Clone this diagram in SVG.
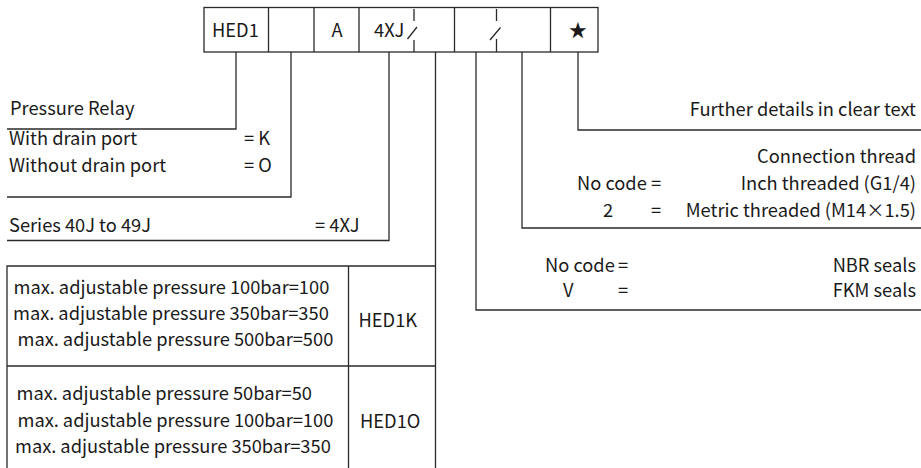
<svg xmlns="http://www.w3.org/2000/svg" width="921" height="468" viewBox="0 0 921 468">
<style>
text{font-family:"Noto Sans CJK SC","Noto Sans",sans-serif;font-size:18.3px;fill:#1a1a1a}
.r{text-anchor:end}
.ln{fill:none;stroke:#2a2a2a;stroke-width:1.3}
</style>
<rect width="921" height="468" fill="#fff"/>
<g id="code">
<rect class="ln" x="204" y="7.5" width="394" height="44.5"/>
<path class="ln" d="M268.5 7.5V52M314 7.5V52M359 7.5V52M454.5 7.5V52M550.5 7.5V52"/>
<path class="ln" d="M414 9V21M414 40V52M407.5 39L417 27M496.5 9V21M496.5 39V52M490 40L500.5 27.5"/>
<text x="212" y="36.5">HED1</text>
<text x="337" y="36.5" text-anchor="middle">A</text>
<text x="374" y="36.5">4XJ</text>
<text x="578" y="37" text-anchor="middle" font-size="14">★</text>
</g>
<g id="connectors">
<path class="ln" d="M236 52V129H7"/>
<path class="ln" d="M291 52V197H7"/>
<path class="ln" d="M389 52V240.5H7"/>
<path class="ln" d="M435.5 52V468"/>
<path class="ln" d="M476 52V310H921"/>
<path class="ln" d="M522 52V228H921"/>
<path class="ln" d="M578 52V130H921"/>
</g>
<g id="type">
<text x="10" y="115">Pressure Relay</text>
</g>
<g id="drain">
<text x="9" y="145">With drain port</text>
<text x="244" y="145">= K</text>
<text x="9" y="172">Without drain port</text>
<text x="244" y="172">= O</text>
</g>
<g id="series">
<text x="9" y="231.5">Series 40J to 49J</text>
<text x="315" y="231.5">= 4XJ</text>
</g>
<g id="pressure-table">
<path class="ln" d="M435.5 266H7V468M348.5 266V468M7 366H435.5"/>
<text x="13.5" y="294">max. adjustable pressure 100bar=100</text>
<text x="13" y="320">max. adjustable pressure 350bar=350</text>
<text x="17.5" y="345.5">max. adjustable pressure 500bar=500</text>
<text x="358.5" y="327">HED1K</text>
<text x="16.5" y="400">max. adjustable pressure 50bar=50</text>
<text x="17.5" y="426.5">max. adjustable pressure 100bar=100</text>
<text x="15" y="453">max. adjustable pressure 350bar=350</text>
<text x="360" y="428">HED1O</text>
</g>
<g id="further">
<text class="r" x="916" y="116">Further details in clear text</text>
</g>
<g id="thread">
<text class="r" x="916" y="162.5">Connection thread</text>
<text x="577" y="190">No code</text>
<text x="651" y="190">=</text>
<text class="r" x="916" y="190">Inch threaded (G1/4)</text>
<text x="603" y="216.5">2</text>
<text x="651" y="216.5">=</text>
<text class="r" x="916" y="216.5">Metric threaded (M14×1.5)</text>
</g>
<g id="seals">
<text x="545" y="271.5">No code</text>
<text x="618" y="271.5">=</text>
<text class="r" x="916" y="271.5">NBR seals</text>
<text x="563" y="296.5">V</text>
<text x="618" y="296.5">=</text>
<text class="r" x="916" y="296.5">FKM seals</text>
</g>
</svg>
